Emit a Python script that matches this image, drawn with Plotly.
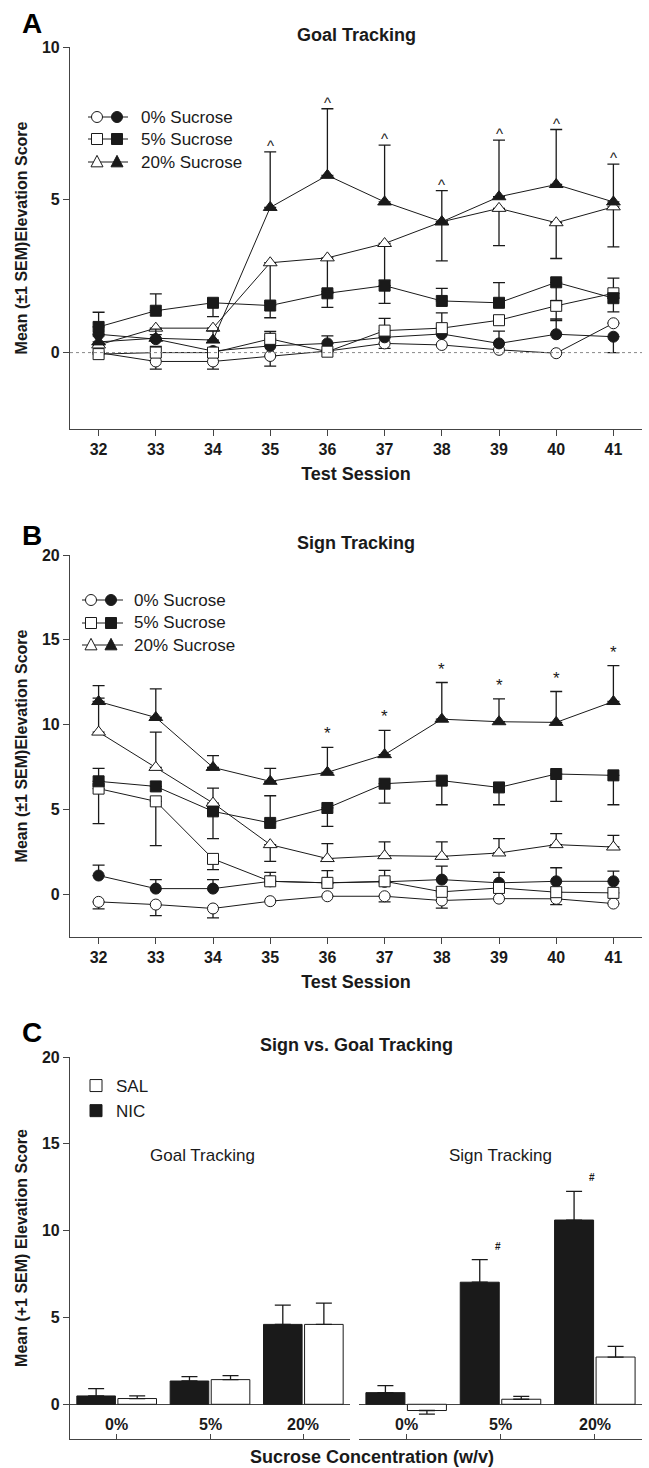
import plotly.graph_objects as go

# ---------------- data ----------------
sessions = [32, 33, 34, 35, 36, 37, 38, 39, 40, 41]

# Panel A: Goal tracking (open = SAL, filled = NIC)
A_sal_0 = [0.00, -0.29, -0.29, -0.11, 0.05, 0.30, 0.25, 0.09, -0.02, 0.96]
A_nic_0 = [0.60, 0.44, 0.05, 0.22, 0.30, 0.50, 0.61, 0.30, 0.60, 0.52]
A_sal_5 = [-0.05, 0.00, 0.00, 0.45, 0.03, 0.72, 0.80, 1.06, 1.53, 1.94]
A_nic_5 = [0.84, 1.37, 1.63, 1.54, 1.94, 2.19, 1.69, 1.63, 2.30, 1.78]
A_sal_20 = [0.25, 0.80, 0.80, 2.94, 3.10, 3.57, 4.28, 4.72, 4.25, 4.77]
A_nic_20 = [0.35, 0.47, 0.41, 4.75, 5.80, 4.93, 4.28, 5.10, 5.50, 4.93]

A_sal_0_up = [0, 0, 0, 0, 0, 0, 0, 0, 0, 0]
A_sal_0_dn = [0, 0.25, 0.25, 0.33, 0, 0.16, 0, 0, 0, 0]
A_nic_0_up = [0, 0.15, 0, 0, 0.25, 0, 0, 0.40, 0.50, 0]
A_nic_0_dn = [0, 0, 0, 0, 0, 0, 0, 0, 0, 0.52]
A_sal_5_up = [0, 0.20, 0, 0.24, 0, 0.40, 0.50, 0, 0, 0.50]
A_sal_5_dn = [0, 0, 0, 0, 0, 0, 0, 0, 0.48, 0]
A_nic_5_up = [0.48, 0.55, 0, 0, 0, 0, 0.41, 0.66, 0, 0]
A_nic_5_dn = [0, 0, 0.45, 0.40, 0.46, 0.58, 0, 0, 0.60, 0.45]
A_sal_20_up = [0, 0, 0, 0, 0, 0, 0, 0, 0, 0]
A_sal_20_dn = [0, 0, 0, 1.30, 1.10, 1.20, 1.28, 1.22, 1.17, 1.31]
A_nic_20_up = [0.20, 0.30, 0.30, 1.82, 2.18, 1.86, 1.02, 1.85, 1.80, 1.24]
A_nic_20_dn = [0, 0, 0, 0, 0, 0, 0, 0, 0, 0]
A_caret_idx = [3, 4, 5, 6, 7, 8, 9]

# Panel B: Sign tracking
B_sal_0 = [-0.43, -0.59, -0.82, -0.39, -0.10, -0.10, -0.35, -0.24, -0.25, -0.53]
B_nic_0 = [1.12, 0.35, 0.35, 0.78, 0.69, 0.75, 0.88, 0.69, 0.78, 0.78]
B_sal_5 = [6.24, 5.49, 2.10, 0.78, 0.69, 0.78, 0.16, 0.39, 0.14, 0.10]
B_nic_5 = [6.67, 6.37, 4.90, 4.22, 5.10, 6.53, 6.71, 6.31, 7.10, 7.02]
B_sal_20 = [9.57, 7.49, 5.39, 2.94, 2.12, 2.29, 2.25, 2.45, 2.94, 2.80]
B_nic_20 = [11.37, 10.43, 7.49, 6.67, 7.20, 8.24, 10.33, 10.18, 10.14, 11.37]

B_sal_0_up = [0, 0, 0, 0, 0, 0, 0, 0, 0, 0]
B_sal_0_dn = [0.41, 0.65, 0.55, 0, 0, 0.33, 0.45, 0, 0.34, 0]
B_nic_0_up = [0.61, 0.53, 0.53, 0, 0, 0, 0.79, 0.62, 0.80, 0.60]
B_nic_0_dn = [0, 0, 0, 0, 0, 0, 0, 0, 0, 0]
B_sal_5_up = [0, 0, 0, 0.53, 0.72, 0.65, 0, 0, 0, 0]
B_sal_5_dn = [2.06, 2.61, 0.63, 0, 0, 0, 0, 0, 0, 0]
B_nic_5_up = [0.76, 0, 0, 1.60, 0, 0, 0, 0, 0, 0]
B_nic_5_dn = [0, 0, 1.60, 0, 1.08, 1.14, 1.42, 1.02, 1.61, 1.73]
B_sal_20_up = [2.00, 2.08, 0.88, 0, 0.88, 0.81, 0.85, 0.84, 0.65, 0.69]
B_sal_20_dn = [0, 0, 0, 0.98, 0, 0, 0, 0, 0, 0]
B_nic_20_up = [0.94, 1.69, 0.69, 0.76, 1.47, 1.43, 2.16, 1.35, 1.82, 2.12]
B_nic_20_dn = [0, 0, 0, 0, 0, 0, 0, 0, 0, 0]
B_star_idx = [4, 5, 6, 7, 8, 9]

# Panel C: Sign vs goal tracking
conc = ["0%", "5%", "20%"]
C_goal_nic = [0.48, 1.34, 4.60]
C_goal_nic_err = [0.42, 0.25, 1.11]
C_goal_sal = [0.33, 1.42, 4.60]
C_goal_sal_err = [0.15, 0.23, 1.22]
C_sign_nic = [0.67, 7.03, 10.61]
C_sign_nic_err = [0.40, 1.30, 1.65]
C_sign_sal = [-0.36, 0.29, 2.72]
C_sign_sal_err = [0.21, 0.17, 0.61]
C_hash_idx = [1, 2]

legend_labels = ["0% Sucrose", "5% Sucrose", "20% Sucrose"]

# ---------------- layout helpers ----------------
W, H = 649, 1468
ML, MR, MT, MB = 70, 7, 47, 29
PW, PH = W - ML - MR, H - MT - MB


def pxx(p):
    return (p - ML) / PW


def pyy(p):
    return 1 - (p - MT) / PH


FONT = "Liberation Sans, Arial, Helvetica, sans-serif"
INK = "#1a1a1a"
AX = "#444"

fig = go.Figure()


def add_series(xa, ya, y, up, dn, symbol, fill):
    fig.add_trace(go.Scatter(
        x=sessions, y=y, xaxis=xa, yaxis=ya, mode="lines+markers",
        line=dict(color=INK, width=1),
        marker=dict(symbol=symbol, size=11 if symbol != "triangle-up" else 12,
                    color=fill, line=dict(color=INK, width=1)),
        error_y=dict(type="data", symmetric=False, array=up, arrayminus=dn,
                     color=INK, thickness=1.3, width=6),
        showlegend=False, hoverinfo="skip"))


A_series = [
    (A_sal_0, A_sal_0_up, A_sal_0_dn, "circle", "white"),
    (A_nic_0, A_nic_0_up, A_nic_0_dn, "circle", INK),
    (A_sal_5, A_sal_5_up, A_sal_5_dn, "square", "white"),
    (A_nic_5, A_nic_5_up, A_nic_5_dn, "square", INK),
    (A_sal_20, A_sal_20_up, A_sal_20_dn, "triangle-up", "white"),
    (A_nic_20, A_nic_20_up, A_nic_20_dn, "triangle-up", INK),
]
B_series = [
    (B_sal_0, B_sal_0_up, B_sal_0_dn, "circle", "white"),
    (B_nic_0, B_nic_0_up, B_nic_0_dn, "circle", INK),
    (B_sal_5, B_sal_5_up, B_sal_5_dn, "square", "white"),
    (B_nic_5, B_nic_5_up, B_nic_5_dn, "square", INK),
    (B_sal_20, B_sal_20_up, B_sal_20_dn, "triangle-up", "white"),
    (B_nic_20, B_nic_20_up, B_nic_20_dn, "triangle-up", INK),
]
for s in A_series:
    add_series("x", "y", *s)
for s in B_series:
    add_series("x2", "y2", *s)


def bar(xa, ya, vals, errs, color, name, rank, show):
    up = [e if v >= 0 else 0 for v, e in zip(vals, errs)]
    dn = [e if v < 0 else 0 for v, e in zip(vals, errs)]
    fig.add_trace(go.Bar(
        x=conc, y=vals, xaxis=xa, yaxis=ya, name=name, legendrank=rank,
        showlegend=show, legendgroup=name,
        marker=dict(color=color, line=dict(color=INK, width=1)),
        error_y=dict(type="data", symmetric=False, array=up, arrayminus=dn,
                     color=INK, thickness=1.3, width=8),
        hoverinfo="skip"))


bar("x3", "y3", C_goal_nic, C_goal_nic_err, INK, "NIC", 2, True)
bar("x3", "y3", C_goal_sal, C_goal_sal_err, "white", "SAL", 1, True)
bar("x4", "y4", C_sign_nic, C_sign_nic_err, INK, "NIC", 2, False)
bar("x4", "y4", C_sign_sal, C_sign_sal_err, "white", "SAL", 1, False)

# ---------------- axes ----------------
tickfont = dict(family=FONT, size=16, color=INK, weight="bold")
titlefont = dict(family=FONT, size=18, color=INK, weight="bold")
ytitlefont = dict(family=FONT, size=16, color=INK, weight="bold")
axis_common = dict(showgrid=False, zeroline=False, showline=True, linecolor=AX,
                   linewidth=1.2, ticks="outside", ticklen=6, tickwidth=1.2,
                   tickcolor=AX, tickfont=tickfont)

fig.update_layout(
    xaxis=dict(axis_common, domain=[0, 1], range=[31.5, 41.5], tickvals=sessions,
               anchor="y", title=dict(text="Test Session", font=titlefont, standoff=10)),
    yaxis=dict(axis_common, domain=[pyy(429), pyy(47)], range=[-2.5, 10],
               tickvals=[0, 5, 10], anchor="x",
               title=dict(text="Mean (±1 SEM)Elevation Score", font=ytitlefont, standoff=10)),
    xaxis2=dict(axis_common, domain=[0, 1], range=[31.5, 41.5], tickvals=sessions,
                anchor="y2", title=dict(text="Test Session", font=titlefont, standoff=10)),
    yaxis2=dict(axis_common, domain=[pyy(937), pyy(555)], range=[-2.5, 20],
                tickvals=[0, 5, 10, 15, 20], anchor="x2",
                title=dict(text="Mean (±1 SEM)Elevation Score", font=ytitlefont, standoff=10)),
    xaxis3=dict(axis_common, domain=[0, pxx(350)], anchor="y3", type="category",
                ticks="inside", ticklen=5, showticklabels=False),
    yaxis3=dict(axis_common, domain=[0, pyy(1057)], range=[-2, 20],
                tickvals=[0, 5, 10, 15, 20], anchor="x3", zeroline=True,
                zerolinecolor=AX, zerolinewidth=1.2,
                title=dict(text="Mean (+1 SEM) Elevation Score", font=ytitlefont, standoff=10)),
    xaxis4=dict(axis_common, domain=[pxx(359), 1], anchor="y4", type="category",
                ticks="inside", ticklen=5, showticklabels=False),
    yaxis4=dict(domain=[0, pyy(1057)], range=[-2, 20], anchor="x4", matches="y3",
                showline=False, showgrid=False, showticklabels=False, ticks="",
                zeroline=True, zerolinecolor=AX, zerolinewidth=1.2),
    barmode="group", bargap=0.12, bargroupgap=0.06,
    width=W, height=H, margin=dict(l=ML, r=MR, t=MT, b=MB),
    plot_bgcolor="white", paper_bgcolor="white",
    font=dict(family=FONT, color=INK),
    legend=dict(x=pxx(76), y=pyy(1068), xanchor="left", yanchor="top",
                font=dict(family=FONT, size=17, color=INK), bgcolor="rgba(0,0,0,0)",
                itemwidth=30, tracegroupgap=0),
)

# dotted zero line in panel A
fig.add_shape(type="line", xref="x domain", yref="y", x0=0, x1=1, y0=0, y1=0,
              line=dict(color="#888", width=1, dash="dot"))

annotations = []
# panel titles and letters
for text, ypx in [("Goal Tracking", 35), ("Sign Tracking", 543), ("Sign vs. Goal Tracking", 1045)]:
    annotations.append(dict(text=text, xref="paper", yref="paper", x=0.5, y=pyy(ypx),
                            showarrow=False, font=titlefont, xanchor="center", yanchor="middle"))
for text, ypx in [("A", 23), ("B", 536), ("C", 1032)]:
    annotations.append(dict(text=text, xref="paper", yref="paper", x=pxx(20), y=pyy(ypx),
                            showarrow=False, xanchor="left", yanchor="middle",
                            font=dict(family=FONT, size=28, color="black", weight="bold")))

# significance marks
for i in A_caret_idx:
    annotations.append(dict(text="^", xref="x", yref="y", x=sessions[i],
                            y=A_nic_20[i] + A_nic_20_up[i], showarrow=False,
                            yanchor="bottom", yshift=-4,
                            font=dict(family=FONT, size=15, color=INK)))
for i in B_star_idx:
    annotations.append(dict(text="*", xref="x2", yref="y2", x=sessions[i],
                            y=B_nic_20[i] + B_nic_20_up[i], showarrow=False,
                            yanchor="bottom", yshift=2,
                            font=dict(family=FONT, size=17, color=INK)))
for i in C_hash_idx:
    annotations.append(dict(text="#", xref="x4", yref="y4", x=conc[i],
                            y=C_sign_nic[i] + C_sign_nic_err[i], showarrow=False,
                            yanchor="bottom", yshift=6, xshift=-3,
                            font=dict(family=FONT, size=10, color=INK, weight="bold")))

# panel C inner labels
for xa in ["x3", "x4"]:
    for c in conc:
        annotations.append(dict(text=c, xref=xa, yref="y3", x=c, y=-1.15, showarrow=False,
                                yanchor="middle", font=tickfont))
annotations.append(dict(text="Goal Tracking", xref="x3", yref="y3", x=conc[1], y=14.3,
                        xshift=-8, showarrow=False, font=dict(family=FONT, size=17, color=INK)))
annotations.append(dict(text="Sign Tracking", xref="x4", yref="y4", x=conc[1], y=14.3,
                        showarrow=False, font=dict(family=FONT, size=17, color=INK)))
annotations.append(dict(text="Sucrose Concentration (w/v)", xref="paper", yref="paper",
                        x=pxx(372), y=pyy(1457), showarrow=False, font=titlefont,
                        yanchor="middle"))

# custom paired-symbol legends for panels A and B
shapes = []


def marker_shape(sym, cx, cy, fill, r=5.5):
    if sym == "circle":
        return dict(type="circle", xref="paper", yref="paper", x0=pxx(cx - r), x1=pxx(cx + r),
                    y0=pyy(cy + r), y1=pyy(cy - r), fillcolor=fill,
                    line=dict(color=INK, width=1))
    if sym == "square":
        return dict(type="rect", xref="paper", yref="paper", x0=pxx(cx - r), x1=pxx(cx + r),
                    y0=pyy(cy + r), y1=pyy(cy - r), fillcolor=fill,
                    line=dict(color=INK, width=1))
    h = r * 1.1
    path = "M {},{} L {},{} L {},{} Z".format(
        pxx(cx - r - 0.5), pyy(cy + h * 0.8), pxx(cx + r + 0.5), pyy(cy + h * 0.8),
        pxx(cx), pyy(cy - h * 1.1))
    return dict(type="path", xref="paper", yref="paper", path=path, fillcolor=fill,
                line=dict(color=INK, width=1))


def paired_legend(rows_y, x_open, x_fill, lx0, lx1, tx):
    for sym, ry, lab in zip(["circle", "square", "triangle"], rows_y, legend_labels):
        shapes.append(dict(type="line", xref="paper", yref="paper", x0=pxx(lx0), x1=pxx(lx1),
                           y0=pyy(ry), y1=pyy(ry), line=dict(color=INK, width=1)))
        shapes.append(marker_shape(sym, x_open, ry, "white"))
        shapes.append(marker_shape(sym, x_fill, ry, INK))
        annotations.append(dict(text=lab, xref="paper", yref="paper", x=pxx(tx), y=pyy(ry),
                                showarrow=False, xanchor="left", yanchor="middle",
                                font=dict(family=FONT, size=17, color=INK)))


paired_legend([117, 139, 162], 97, 117, 88, 128, 139)
paired_legend([600, 623, 645], 91, 111, 82, 123, 132)

fig.update_layout(annotations=annotations)
for s in shapes:
    fig.add_shape(**s)

# remove the browser's default 8px page margin so the figure fills the window exactly
fig.write_html("out.html", config={"displayModeBar": False},
               post_script="document.body.style.margin='0';")
